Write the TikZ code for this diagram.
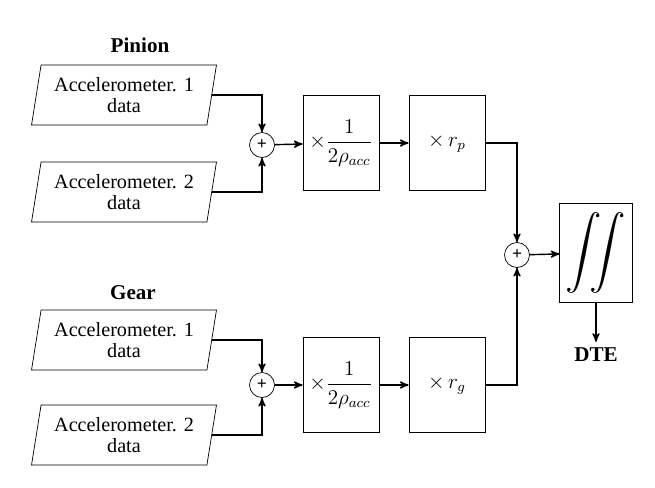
\documentclass[tikz,border=0pt]{standalone}
\usepackage{amsmath}
\usepackage{fontspec}
\setmainfont{Liberation Serif}
\usetikzlibrary{shapes.geometric,arrows,positioning}
\tikzset{
  data/.style={draw,trapezium,trapezium left angle=78,trapezium right angle=102,
    trapezium stretches=true,minimum width=3.7cm,minimum height=1.2cm,
    align=center,font=\fontsize{11.5}{12}\selectfont,inner sep=1pt},
  sum/.style={draw,circle,inner sep=0pt,minimum size=0.5cm,font=\bfseries},
  blk/.style={draw,minimum width=1.52cm,minimum height=1.9cm,font=\fontsize{11.5}{13}\selectfont},
  lbl/.style={font=\bfseries\fontsize{12}{14}\selectfont},
  flow/.style={-stealth',thick}
}
\begin{document}
\begin{tikzpicture}[x=0.02cm,y=-0.02cm]
        \useasboundingbox (0,0) rectangle (655,487);

        % Pinion branch
        \node[lbl] at (140,45) {Pinion};
        \node[data] (p1) at (124,95) {Accelerometer. 1\\data};
        \node[data] (p2) at (124,192) {Accelerometer. 2\\data};
        \node[sum] (sp) at (262,145) {+};
        \node[blk] (hp) at (341,143) {$\times\dfrac{1}{2\rho_{acc}}$};
        \node[blk] (rp) at (447,143) {$\times\, r_p$};

        % Gear branch
        \node[lbl] at (133,293) {Gear};
        \node[data] (g1) at (124,340) {Accelerometer. 1\\data};
        \node[data] (g2) at (124,435) {Accelerometer. 2\\data};
        \node[sum] (sg) at (262,385) {+};
        \node[blk] (hg) at (341,385) {$\times\dfrac{1}{2\rho_{acc}}$};
        \node[blk] (rg) at (447,385) {$\times\, r_g$};

        % Integration
        \node[sum] (s) at (517,255) {+};
        \node[blk,minimum width=1.44cm,minimum height=1.98cm] (int) at (596,253) {\huge$\displaystyle\iint$};
        \node[lbl] (dte) at (596,355) {DTE};

        % Connectors
        \draw[flow] (p1.east) -| (sp.north);
        \draw[flow] (p2.east) -| (sp.south);
        \draw[flow] (g1.east) -| (sg.north);
        \draw[flow] (g2.east) -| (sg.south);
        \draw[flow] (sp) -- (hp);
        \draw[flow] (hp) -- (rp);
        \draw[flow] (sg) -- (hg);
        \draw[flow] (hg) -- (rg);
        \draw[flow] (rp.east) -| (s.north);
        \draw[flow] (rg.east) -| (s.south);
        \draw[flow] (s) -- (int);
        \draw[flow] (int) -- (dte);
\end{tikzpicture}
\end{document}
